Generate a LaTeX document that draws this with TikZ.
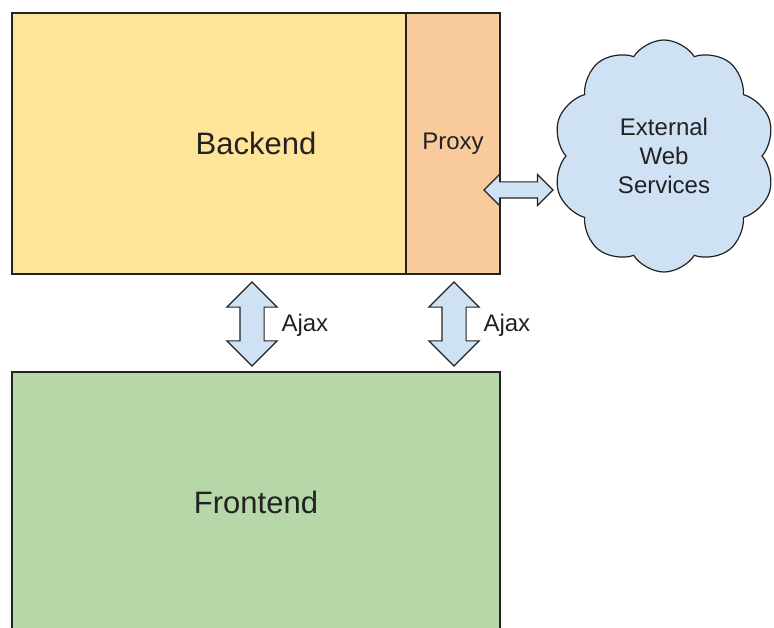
\documentclass[tikz,border=0pt]{standalone}
\usepackage{fontspec}
\setmainfont{Liberation Sans}
\usepackage{tikz}
\usetikzlibrary{shapes.symbols, shapes.arrows, positioning, calc}
\definecolor{backfill}{HTML}{FFE599}
\definecolor{proxyfill}{HTML}{F9CB9C}
\definecolor{frontfill}{HTML}{B6D7A8}
\definecolor{webfill}{HTML}{CFE2F3}
\definecolor{ink}{HTML}{222222}
\tikzset{
  box/.style={draw=ink, line width=1.3pt, inner sep=0pt},
  bigtext/.style={font=\fontsize{31}{36}\selectfont},
  smalltext/.style={font=\fontsize{24}{29}\selectfont},
  fatarrow/.style={double arrow, draw=ink, fill=webfill, line width=1.2pt, inner xsep=0pt,
    double arrow head indent=0pt}
}

\begin{document}
\begin{tikzpicture}[x=1pt, y=-1pt, every node/.style={text=ink}]
  \useasboundingbox (0,0) rectangle (774,628);
  \clip (0,0) rectangle (774,628);

  % Backend
  \node[box, bigtext, fill=backfill, minimum width=488pt, minimum height=261pt] (backend) at (256,143.5) {Backend};
  \node[box, smalltext, fill=proxyfill, minimum width=94pt, minimum height=261pt, anchor=north east] (proxy) at (backend.north east) {\raisebox{-3pt}{Proxy}};

  % External services
  \node[cloud, cloud puffs=10, cloud puff arc=115, cloud ignores aspect, draw=ink, line width=1.2pt,
        fill=webfill, minimum width=222pt, minimum height=232pt, smalltext, align=center] (extweb) at (664,156)
        {External\\Web\\Services};
  \node[fatarrow, minimum height=69pt, inner ysep=7.5pt, double arrow head extend=7.5pt] (weblink) at (518.5,190) {};

  % Frontend
  \node[box, bigtext, fill=frontfill, minimum width=488pt, minimum height=260pt] (frontend) at (256,502) {Frontend};

  % Ajax links
  \foreach \x/\name in {252/ajaxleft, 454/ajaxright}{
    \node[fatarrow, rotate=90, minimum height=84pt, inner ysep=11.5pt, double arrow head extend=13pt] (\name) at (\x,324) {};
    \node[smalltext, anchor=west] (\name lbl) at (\x+26,325) {Ajax};
  }
\end{tikzpicture}
\end{document}
